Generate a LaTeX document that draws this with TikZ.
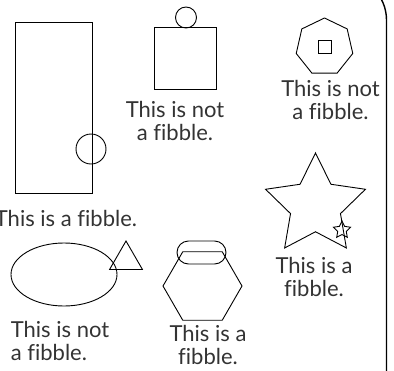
\documentclass[tikz,border=0pt]{standalone}
\usepackage{fontspec}
\setmainfont{Lato}[Ligatures=NoCommon]
\usetikzlibrary{shapes.geometric}
\begin{document}
\begin{tikzpicture}[
                x=1pt, y=-1pt,
                every node/.style={draw, line width=0.9pt, inner sep=0pt, outer sep=0pt},
                note/.style={draw=none, text=black!80, font=\fontsize{22}{23}\selectfont, anchor=base},
                dot/.style={circle, minimum size=#1},
                poly/.style={regular polygon, regular polygon sides=#1}
            ]
            \useasboundingbox (0,0) rectangle (394,370);
            \clip (0,0) rectangle (394,370);

            \node[minimum width=77pt, minimum height=171pt] (tall) at (53.5,107.5) {};
            \node[dot=30pt] (talldot) at (91,149) {};
            \node[note] (talltxt) at (66,226) {This is a fibble.};

            \node[minimum size=62pt] (box) at (185,58.5) {};
            \node[dot=21pt] (boxdot) at (186,17.5) {};
            \node[note, align=center] (boxtxt) at (175,140) {This is not\\a fibble.};

            \node[poly=7, minimum size=58pt] (hept) at (324.5,47) {};
            \node[minimum size=13pt] (heptbox) at (325,46.5) {};
            \node[note, align=center] (hepttxt) at (330.5,119) {This is not\\a fibble.};

            \node[star, star points=5, star point ratio=2, minimum size=105pt] (bigstar) at (315.5,205.5) {};
            \node[star, star points=5, star point ratio=2, minimum size=18pt] (smallstar) at (342,230) {};
            \node[note, align=center] (startxt) at (314,296) {This is a\\fibble.};

            \node[ellipse, minimum width=106pt, minimum height=63pt] (oval) at (64,274.5) {};
            \node[poly=3, minimum size=38pt] (tri) at (126,260) {};
            \node[note, align=left] (ovaltxt) at (60,360) {This is not\\a fibble.};

            \node[poly=6, minimum size=79pt] (hex) at (202.5,286) {};
            \node[rounded corners=11.5pt, minimum width=49pt, minimum height=23pt] (pill) at (201.5,252.5) {};
            \node[note, align=center] (hextxt) at (208,364) {This is a\\fibble.};

            \draw[line width=1.4pt, rounded corners=44pt] (386.5,380) -- (386.5,-24) -- (300,-24);

        \end{tikzpicture}
\end{document}
